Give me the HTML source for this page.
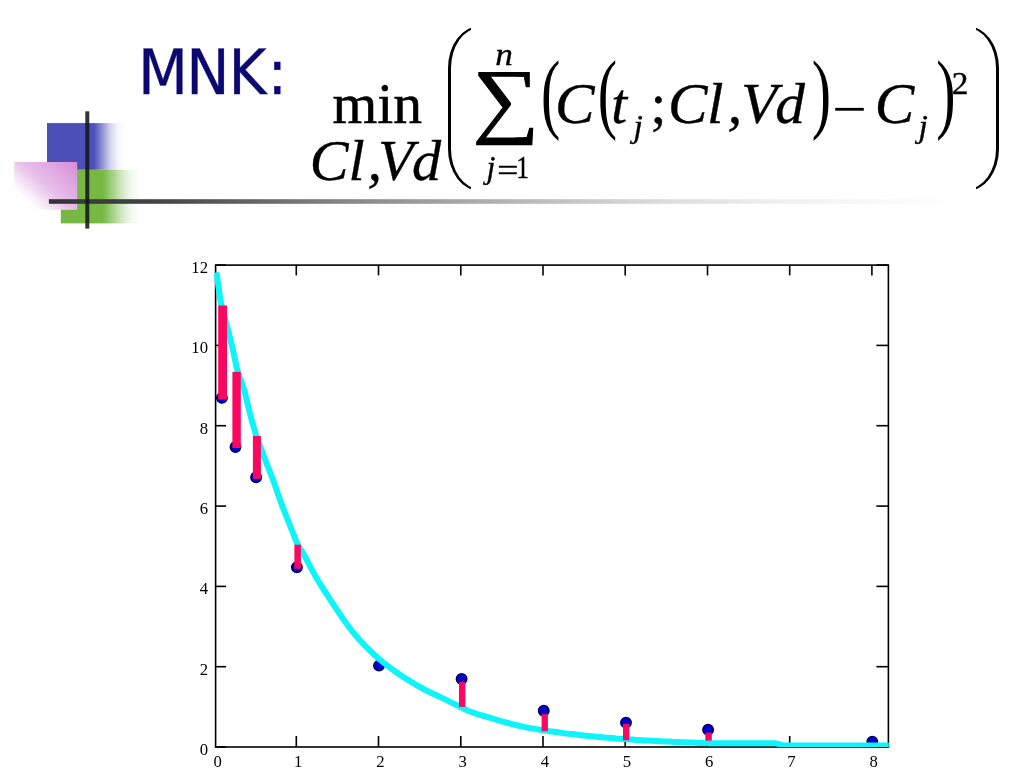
<!DOCTYPE html>
<html><head><meta charset="utf-8"><title>MNK</title>
<style>
html,body{margin:0;padding:0;background:#fff;}
body{width:1024px;height:768px;overflow:hidden;position:relative;font-family:"Liberation Serif",serif;}
svg{position:absolute;left:0;top:0;}
.bp{position:absolute;width:23.2px;height:171px;top:24px;overflow:hidden;}
.bp i{position:absolute;display:block;box-sizing:border-box;top:2px;width:80px;height:165px;border:2.1px solid #000;}
.bp.l{left:447.8px;}
.bp.l i{left:0;border-left-width:3.4px;border-radius:32px 0 0 32px/42px 0 0 42px;}
.bp.r{left:975.8px;}
.bp.r i{right:0;border-right-width:3.4px;border-radius:0 32px 32px 0/0 42px 42px 0;}
</style></head><body>
<svg width="1024" height="768" viewBox="0 0 1024 768">
<defs>
<linearGradient id="gb" x1="0" x2="1" y1="0" y2="0"><stop offset="0" stop-color="#4b4fb8"/><stop offset="0.6" stop-color="#4b4fb8"/><stop offset="0.713" stop-color="#4b4fb8" stop-opacity="0.6"/><stop offset="0.808" stop-color="#4b4fb8" stop-opacity="0.25"/><stop offset="0.905" stop-color="#4b4fb8" stop-opacity="0.06"/><stop offset="1" stop-color="#4b4fb8" stop-opacity="0"/></linearGradient>
<linearGradient id="gg" x1="0" x2="1" y1="0" y2="0"><stop offset="0" stop-color="#76b843"/><stop offset="0.52" stop-color="#76b843"/><stop offset="0.666" stop-color="#76b843" stop-opacity="0.6"/><stop offset="0.768" stop-color="#76b843" stop-opacity="0.3"/><stop offset="0.87" stop-color="#76b843" stop-opacity="0.1"/><stop offset="0.99" stop-color="#76b843" stop-opacity="0"/></linearGradient>
<linearGradient id="gp" x1="1" x2="-0.09" y1="0" y2="0.89"><stop offset="0" stop-color="#d68cd8"/><stop offset="0.5" stop-color="#e8c0ea"/><stop offset="0.7" stop-color="#f8eaf8"/><stop offset="0.8" stop-color="#ffffff"/><stop offset="1" stop-color="#ffffff"/></linearGradient>
<linearGradient id="gl" x1="0" x2="1" y1="0" y2="0"><stop offset="0" stop-color="#333336"/><stop offset="0.12" stop-color="#454547"/><stop offset="0.33" stop-color="#888888"/><stop offset="0.55" stop-color="#c0c0c0"/><stop offset="0.67" stop-color="#dcdcdc"/><stop offset="0.8" stop-color="#f0f0f0"/><stop offset="1" stop-color="#ffffff"/></linearGradient>
</defs>
<!-- decoration -->
<rect x="47" y="123.1" width="78" height="46.7" fill="url(#gb)"/>
<rect x="60.8" y="169.8" width="80.2" height="53.6" fill="url(#gg)"/>
<rect x="14.2" y="162" width="63" height="47.8" fill="url(#gp)"/>
<rect x="48.9" y="199.2" width="916" height="4.6" fill="url(#gl)"/>
<rect x="85.3" y="111.3" width="4" height="117.3" fill="#141418" fill-opacity="0.86"/>
<!-- title -->
<text transform="scale(1.03,1)" x="134.09 180.79 221.96 259.72" y="94.5" font-family="'DejaVu Sans Condensed','DejaVu Sans','Liberation Sans',sans-serif" font-stretch="condensed" font-size="62.5" fill="#0c0872" stroke="#0c0872" stroke-width="0.3">MNK:</text>
<!-- formula -->
<g font-family="'Liberation Serif',serif" fill="#000" stroke="#000" stroke-width="0.35" style="font-kerning:none">
<text transform="translate(332.49,123.3) scale(1.01,1.0)" font-size="57" stroke-width="0.55">min</text>
<text transform="translate(309.76,180) scale(1.02,1)" font-size="57" font-style="italic">Cl<tspan dx="2.76">,</tspan><tspan dx="-3.95">V</tspan><tspan dx="-1.5">d</tspan></text>
<text transform="translate(541.05,122.4) scale(1.0,1.53)" font-size="58" stroke-width="0">(</text>
<text transform="translate(555.00,123.3) scale(1.04,1.0)" font-size="57" font-style="italic">C</text>
<text transform="translate(597.65,122.4) scale(1.0,1.53)" font-size="58" stroke-width="0">(</text>
<text x="611.30" y="123.3" font-size="57" font-style="italic">t</text>
<text transform="translate(633.59,137.3) scale(1.05,1.0)" font-size="32" font-style="italic">j</text>
<text x="650.45" y="123.3" font-size="57">;</text>
<text transform="translate(667.9,123.3) scale(1.04,1)" font-size="57" font-style="italic">C<tspan dx="-0.45">l</tspan><tspan dx="3.9">,</tspan><tspan dx="-1.19">V</tspan><tspan dx="-2">d</tspan></text>
<text transform="translate(811.73,122.4) scale(1.0,1.53)" font-size="58" stroke-width="0">)</text>
<text transform="translate(831.93,127.7) scale(1.08,1.0)" font-size="57" stroke-width="0">−</text>
<text transform="translate(874.70,123.3) scale(1.04,1.0)" font-size="57" font-style="italic">C</text>
<text transform="translate(918.59,137.3) scale(1.05,1.0)" font-size="32" font-style="italic">j</text>
<text transform="translate(936.13,122.4) scale(1.0,1.53)" font-size="58" stroke-width="0">)</text>
<text transform="translate(951.74,93.7) scale(1.04,1.0)" font-size="32">2</text>
<text transform="translate(495.15,64.9) scale(1.1,1.0)" font-size="32" font-style="italic">n</text>
<text x="486.42" y="177.7" font-size="32" font-style="italic">j</text>
<text transform="translate(497.34,180.6) scale(1.17,1.0)" font-size="32" stroke-width="0.5">=</text>
<text transform="translate(516.15,177.7) scale(0.8,1.0)" font-size="32">1</text>
<text transform="translate(472.4,126.6) scale(1.17,1.037)" font-size="80" stroke-width="0.9">∑</text>
</g>
<!-- chart -->
<g stroke="#000" stroke-width="1.6" fill="none">
<rect x="215.6" y="265.1" width="672.8" height="481.9"/>
<line x1="296.3" y1="265.1" x2="296.3" y2="275.4"/>
<line x1="296.3" y1="747.0" x2="296.3" y2="736.0"/>
<line x1="378.5" y1="265.1" x2="378.5" y2="275.4"/>
<line x1="378.5" y1="747.0" x2="378.5" y2="736.0"/>
<line x1="460.8" y1="265.1" x2="460.8" y2="275.4"/>
<line x1="460.8" y1="747.0" x2="460.8" y2="736.0"/>
<line x1="543.0" y1="265.1" x2="543.0" y2="275.4"/>
<line x1="543.0" y1="747.0" x2="543.0" y2="736.0"/>
<line x1="625.2" y1="265.1" x2="625.2" y2="275.4"/>
<line x1="625.2" y1="747.0" x2="625.2" y2="736.0"/>
<line x1="707.5" y1="265.1" x2="707.5" y2="275.4"/>
<line x1="707.5" y1="747.0" x2="707.5" y2="736.0"/>
<line x1="789.7" y1="265.1" x2="789.7" y2="275.4"/>
<line x1="789.7" y1="747.0" x2="789.7" y2="736.0"/>
<line x1="871.9" y1="265.1" x2="871.9" y2="275.4"/>
<line x1="871.9" y1="747.0" x2="871.9" y2="736.0"/>
<line x1="215.6" y1="747.0" x2="226.1" y2="747.0"/>
<line x1="888.4" y1="747.0" x2="876.4" y2="747.0"/>
<line x1="215.6" y1="666.7" x2="226.1" y2="666.7"/>
<line x1="888.4" y1="666.7" x2="876.4" y2="666.7"/>
<line x1="215.6" y1="586.4" x2="226.1" y2="586.4"/>
<line x1="888.4" y1="586.4" x2="876.4" y2="586.4"/>
<line x1="215.6" y1="506.1" x2="226.1" y2="506.1"/>
<line x1="888.4" y1="506.1" x2="876.4" y2="506.1"/>
<line x1="215.6" y1="425.7" x2="226.1" y2="425.7"/>
<line x1="888.4" y1="425.7" x2="876.4" y2="425.7"/>
<line x1="215.6" y1="345.4" x2="226.1" y2="345.4"/>
<line x1="888.4" y1="345.4" x2="876.4" y2="345.4"/>
<line x1="215.6" y1="265.1" x2="226.1" y2="265.1"/>
<line x1="888.4" y1="265.1" x2="876.4" y2="265.1"/>
</g>
<g font-family="'Liberation Serif',serif" font-size="16.7" fill="#000">
<text x="217.6" y="767.2" text-anchor="middle">0</text>
<text x="298.1" y="767.2" text-anchor="middle">1</text>
<text x="380.3" y="767.2" text-anchor="middle">2</text>
<text x="462.6" y="767.2" text-anchor="middle">3</text>
<text x="544.8" y="767.2" text-anchor="middle">4</text>
<text x="627.0" y="767.2" text-anchor="middle">5</text>
<text x="709.2" y="767.2" text-anchor="middle">6</text>
<text x="791.5" y="767.2" text-anchor="middle">7</text>
<text x="873.7" y="767.2" text-anchor="middle">8</text>
<text x="208" y="754.8" text-anchor="end">0</text>
<text x="208" y="674.5" text-anchor="end">2</text>
<text x="208" y="594.2" text-anchor="end">4</text>
<text x="208" y="513.9" text-anchor="end">6</text>
<text x="208" y="433.5" text-anchor="end">8</text>
<text x="208" y="353.2" text-anchor="end">10</text>
<text x="208" y="272.9" text-anchor="end">12</text>
</g>
<g fill="#0000d0" stroke="#000048" stroke-width="1.3">
<circle cx="221.9" cy="397.9" r="5.3"/>
<circle cx="235.5" cy="447.0" r="5.3"/>
<circle cx="256.1" cy="477.2" r="5.3"/>
<circle cx="296.9" cy="567.2" r="5.3"/>
<circle cx="379.0" cy="665.6" r="5.3"/>
<circle cx="461.6" cy="679.0" r="5.3"/>
<circle cx="543.75" cy="710.7" r="5.3"/>
<circle cx="626.0" cy="722.6" r="5.3"/>
<circle cx="708.1" cy="729.8" r="5.3"/>
<circle cx="872.3" cy="741.7" r="5.3"/>
</g>
<clipPath id="cc"><rect x="214.2" y="260" width="674.6" height="486.9"/></clipPath>
<path d="M216.6,272.4 L218.6,287.8 L220.6,300.8 L222.6,310.3 L224.6,317.7 L226.6,324.5 L228.6,332.1 L230.6,339.9 L232.6,348.4 L234.6,357.8 L236.6,367.3 L238.6,374.7 L240.6,379.9 L242.6,384.8 L244.6,391.2 L246.6,400.0 L248.6,408.1 L250.6,415.9 L252.6,423.1 L254.6,430.2 L256.6,436.9 L258.6,442.5 L260.6,447.6 L262.6,452.9 L264.6,458.2 L266.6,463.4 L268.6,468.5 L270.6,473.5 L272.6,478.6 L274.6,484.2 L276.6,490.1 L278.6,495.8 L280.6,501.5 L282.6,506.9 L284.6,511.9 L286.6,516.9 L288.6,521.9 L290.6,527.0 L292.6,532.0 L294.6,537.2 L296.6,542.2 L298.6,546.2 L300.0,548.6 L304.0,554.8 L308.0,562.2 L312.0,569.9 L316.0,577.1 L320.0,583.8 L324.0,590.0 L328.0,596.1 L332.0,602.3 L336.0,608.4 L340.0,614.4 L344.0,620.2 L348.0,625.7 L352.0,631.0 L356.0,635.8 L360.0,640.3 L364.0,644.6 L368.0,648.6 L372.0,652.5 L376.0,656.2 L380.0,659.7 L384.0,663.0 L388.0,666.1 L392.0,669.1 L396.0,672.0 L400.0,674.8 L404.0,677.4 L408.0,679.9 L412.0,682.4 L416.0,684.8 L420.0,687.0 L424.0,689.2 L428.0,691.3 L432.0,693.3 L436.0,695.1 L440.0,696.9 L444.0,698.9 L448.0,700.9 L452.0,702.9 L456.0,704.8 L460.0,706.8 L464.0,708.8 L468.0,710.8 L472.0,712.3 L476.0,713.7 L480.0,714.9 L484.0,716.0 L488.0,717.2 L492.0,718.4 L496.0,719.6 L500.0,720.8 L504.0,721.9 L508.0,723.0 L512.0,724.1 L516.0,725.0 L520.0,726.0 L524.0,726.9 L528.0,727.7 L532.0,728.4 L536.0,729.1 L540.0,729.8 L544.0,730.4 L548.0,731.0 L552.0,731.6 L556.0,732.1 L560.0,732.6 L564.0,733.2 L568.0,733.7 L572.0,734.1 L576.0,734.6 L580.0,735.1 L584.0,735.5 L588.0,735.9 L592.0,736.3 L596.0,736.7 L600.0,737.1 L604.0,737.5 L608.0,737.8 L612.0,738.1 L616.0,738.5 L620.0,738.8 L624.0,739.1 L628.0,739.4 L632.0,739.6 L636.0,739.9 L640.0,740.1 L644.0,740.4 L648.0,740.6 L652.0,740.8 L656.0,741.0 L660.0,741.2 L664.0,741.4 L668.0,741.6 L672.0,741.8 L676.0,741.9 L680.0,742.1 L684.0,742.2 L688.0,742.4 L692.0,742.6 L696.0,742.8 L700.0,742.9 L704.0,743.1 L708.0,743.2 L712.0,743.3 L716.0,743.3 L720.0,743.3 L724.0,743.3 L728.0,743.3 L732.0,743.3 L736.0,743.3 L740.0,743.3 L744.0,743.3 L748.0,743.3 L752.0,743.3 L756.0,743.3 L760.0,743.3 L764.0,743.3 L768.0,743.3 L772.0,743.3 L776.0,743.3 L780.0,744.4 L784.0,745.6 L788.0,745.6 L792.0,745.6 L796.0,745.6 L800.0,745.6 L804.0,745.6 L808.0,745.6 L812.0,745.6 L816.0,745.6 L820.0,745.6 L824.0,745.6 L828.0,745.6 L832.0,745.6 L836.0,745.6 L840.0,745.6 L844.0,745.6 L848.0,745.6 L852.0,745.6 L856.0,745.6 L860.0,745.6 L864.0,745.6 L868.0,745.6 L872.0,745.6 L876.0,745.6 L880.0,745.6 L884.0,745.6 L888.0,745.6 L889.0,745.6" fill="none" stroke="#0ff4fb" stroke-width="6" stroke-linejoin="round" clip-path="url(#cc)"/>
<g fill="#fa085f">
<rect x="218.2" y="305.5" width="8.8" height="94.0"/>
<rect x="232.4" y="371.8" width="8.4" height="76.2"/>
<rect x="252.9" y="436.0" width="8.0" height="42.8"/>
<rect x="294.4" y="544.7" width="6.5" height="24.1"/>
<rect x="459.0" y="682.0" width="6.3" height="24.9"/>
<rect x="541.6" y="714.2" width="6.3" height="17.0"/>
<rect x="623.0" y="724.0" width="6.3" height="16.2"/>
<rect x="705.3" y="732.6" width="6.5" height="8.0"/>
</g>
</svg>
<div class="bp l"><i></i></div><div class="bp r"><i></i></div>
</body></html>
